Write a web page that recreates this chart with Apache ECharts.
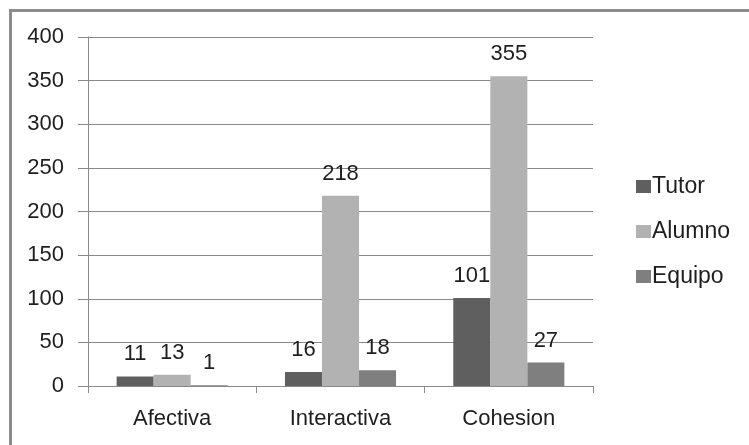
<!DOCTYPE html>
<html>
<head>
<meta charset="utf-8">
<script src="https://cdn.jsdelivr.net/npm/echarts@6/dist/echarts.min.js"></script>
<style>
  html, body { margin: 0; padding: 0; background: #ffffff; }
  #chart { width: 749px; height: 445px; }
</style>
</head>
<body>
<div id="chart"></div>
<script>
// Categories and series values
const categories = ['Afectiva', 'Interactiva', 'Cohesion'];
const tutor = [11, 16, 101];
const alumno = [13, 218, 355];
const equipo = [1, 18, 27];
const seriesNames = ['Tutor', 'Alumno', 'Equipo'];
const yTicks = [0, 400, 50]; // min, max, interval

const FONT = 'Liberation Sans';
const TEXT = '#1e1e1e';
const AXIS = '#8a8a8a';

const chart = echarts.init(document.getElementById('chart'), null, { renderer: 'canvas' });

function barSeries(name, data, color) {
  return {
    name: name,
    type: 'bar',
    data: data,
    barGap: '0%',
    barCategoryGap: '34%',
    itemStyle: { color: color },
    label: {
      show: true,
      position: 'top',
      distance: 11,
      color: TEXT,
      fontFamily: FONT,
      fontSize: 22
    }
  };
}

chart.setOption({
  animation: false,
  backgroundColor: '#ffffff',
  graphic: [{
    type: 'rect',
    shape: { x: 10.5, y: 10.5, width: 800, height: 500 },
    style: { fill: 'none', stroke: '#8c8c8c', lineWidth: 3 },
    silent: true
  }],
  grid: { left: 88, right: 156, top: 37, bottom: 59 },
  legend: {
    orient: 'vertical',
    left: 631,
    top: 170,
    itemGap: 22,
    itemWidth: 15,
    itemHeight: 13,
    icon: 'rect',
    textStyle: { color: TEXT, fontFamily: FONT, fontSize: 23, padding: [0, 0, 0, -4] },
    data: seriesNames
  },
  xAxis: {
    type: 'category',
    data: categories,
    axisLine: { lineStyle: { color: AXIS, width: 1 } },
    axisTick: { show: true, length: 7, lineStyle: { color: AXIS } },
    axisLabel: { color: TEXT, fontFamily: FONT, fontSize: 22, margin: 22 }
  },
  yAxis: {
    type: 'value',
    min: yTicks[0],
    max: yTicks[1],
    interval: yTicks[2],
    axisLine: { show: true, lineStyle: { color: AXIS, width: 1 } },
    axisTick: { show: true, length: 10, lineStyle: { color: AXIS } },
    splitLine: { show: true, lineStyle: { color: AXIS, width: 1 } },
    axisLabel: { color: TEXT, fontFamily: FONT, fontSize: 22, margin: 24 }
  },
  series: [
    barSeries(seriesNames[0], tutor, '#5f5f5f'),
    barSeries(seriesNames[1], alumno, '#b2b2b2'),
    barSeries(seriesNames[2], equipo, '#7f7f7f')
  ]
});
</script>
</body>
</html>
